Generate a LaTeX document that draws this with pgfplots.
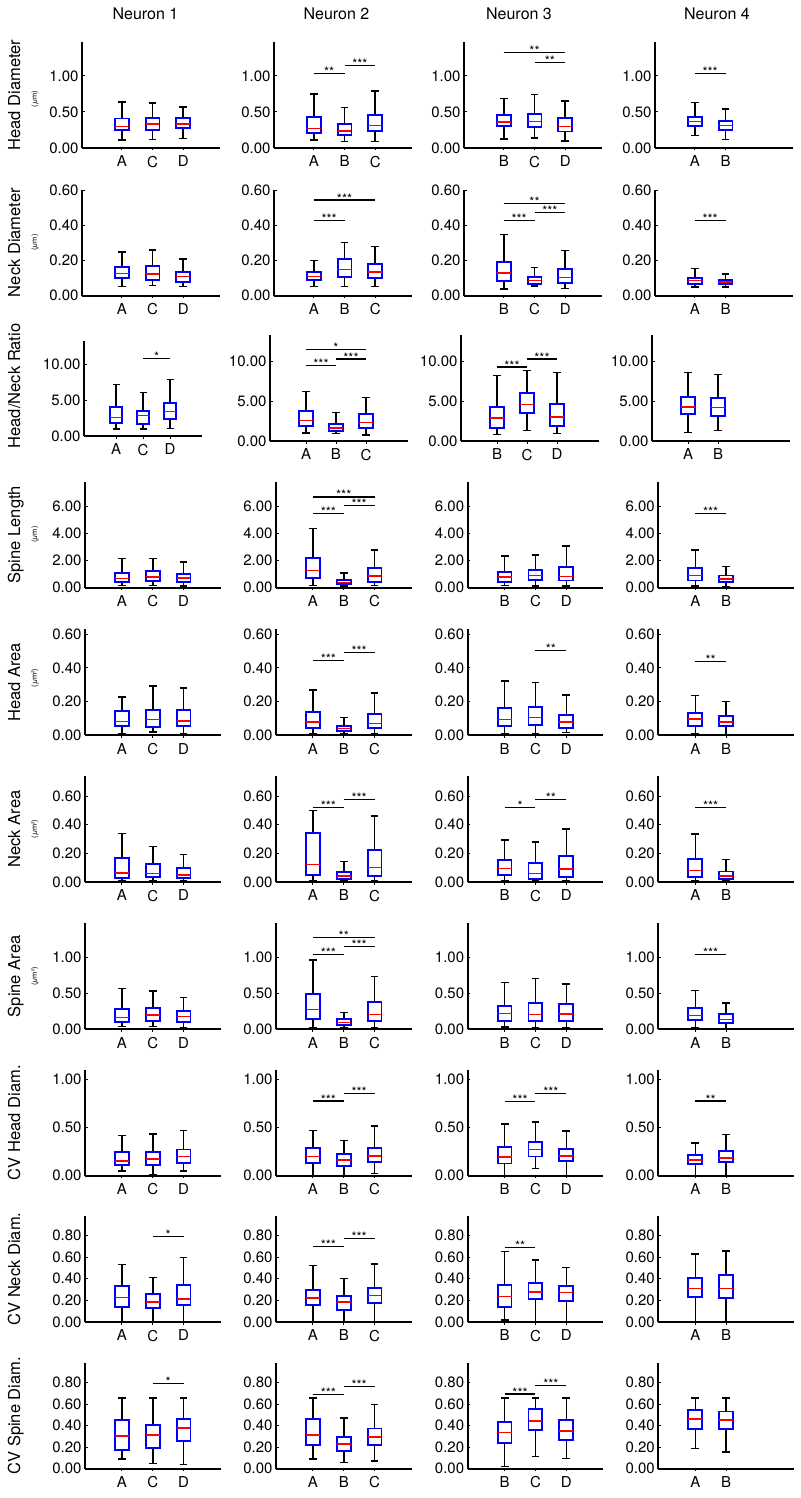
\documentclass[border=0pt]{standalone}
\usepackage{fontspec}
\setmainfont{TeX Gyre Heros}
\usepackage{pgfplots}
\pgfplotsset{compat=1.18}
\usepgfplotslibrary{statistics}

\newcommand{\ticfont}{\fontsize{15}{17}\selectfont}
\newcommand{\starfont}{\fontsize{13}{14}\selectfont}
\newcommand{\labfont}{\fontsize{16.5}{18}\selectfont}
\newcommand{\titfont}{\fontsize{16}{18}\selectfont}
\newcommand{\unitfont}{\fontsize{7.5}{9}\selectfont}

\newcommand{\mybox}[6]{\addplot[blue, boxplot/draw direction=y, boxplot prepared={draw position=#1, lower whisker=#2, lower quartile=#3, median=#4, upper quartile=#5, upper whisker=#6}] coordinates {};}
\newcommand{\mysig}[5]{\addplot[black, line width=1.1pt] coordinates {(#1,#4) (#2,#4)};
  \node[font=\starfont, anchor=base, yshift=-3pt, inner sep=0pt] at (axis cs:#3,#4) {#5};}

\pgfplotsset{
  boxplot/draw direction=y,
  boxplot/box extend=0.45,
  boxplot/whisker extend=0.25,
  boxplot/every box/.style={draw=blue, line width=1.8pt},
  boxplot/every whisker/.style={draw=black, line width=1.5pt},
  boxplot/every median/.style={draw=red, line width=1.6pt},
  panel/.style={
    scale only axis, height=106pt, ymin=0,
    axis x line=bottom, axis y line=left,
    axis line style={-, line width=1.8pt, black},
    clip=false, anchor=south west,
    tick label style={font=\ticfont},
    yticklabel style={/pgf/number format/fixed, /pgf/number format/fixed zerofill, /pgf/number format/precision=2, /pgf/number format/assume math mode=true},
    xticklabel style={yshift=-2pt},
    scaled y ticks=false,
    major tick length=2.5pt,
    tick style={black, line width=1pt},
    ytick align=inside, xtick align=outside,
  },
  ga/.style={panel, width=138pt, xmin=-0.3, xmax=4.2},
  gr/.style={panel, width=138pt, xmin=-0.2, xmax=4.4},
  gb/.style={panel, width=135.5pt, xmin=-0.2, xmax=4.2},
  c1/.style={xtick={1,2,3}, xticklabels={A,C,D}},
  c2/.style={xtick={1,2,3}, xticklabels={A,B,C}},
  c3/.style={xtick={1,2,3}, xticklabels={B,C,D}},
  c4/.style={xtick={1,2}, xticklabels={A,B}},
  r1/.style={ymax=1.472, ytick={0,0.5,1}},
  r2/.style={ymax=0.606, ytick={0,0.2,0.4,0.6}},
  r3/.style={ymax=13.25, ytick={0,5,10}},
  r4/.style={ymax=7.85, ytick={0,2,4,6}},
  r5/.style={ymax=0.63, ytick={0,0.2,0.4,0.6}},
  r6/.style={ymax=0.74, ytick={0,0.2,0.4,0.6}},
  r7/.style={ymax=1.472, ytick={0,0.5,1}},
  r8/.style={ymax=1.104, ytick={0,0.5,1}},
  r9/.style={ymax=0.979, ytick={0,0.2,0.4,0.6,0.8}},
  r10/.style={ymax=0.986, ytick={0,0.2,0.4,0.6,0.8}},
}

\begin{document}
\begin{tikzpicture}
\useasboundingbox (0,0) rectangle (800pt,-1498pt);

% titles
\node[font=\titfont, anchor=base] at (145.5pt,-19.5pt) {Neuron 1};
\node[font=\titfont, anchor=base] at (336.5pt,-19.5pt) {Neuron 2};
\node[font=\titfont, anchor=base] at (519pt,-19.5pt) {Neuron 3};
\node[font=\titfont, anchor=base] at (717pt,-19.5pt) {Neuron 4};

% row labels
\node[font=\labfont, rotate=90, anchor=base] at (20pt,-95pt) {Head Diameter};
\node[font=\unitfont, rotate=90] at (35pt,-99pt) {(\textit{μ}m)};
\node[font=\labfont, rotate=90, anchor=base] at (20pt,-242.7pt) {Neck Diameter};
\node[font=\unitfont, rotate=90] at (35pt,-242.7pt) {(\textit{μ}m)};
\node[font=\labfont, rotate=90, anchor=base] at (20pt,-386pt) {Head/Neck Ratio};
\node[font=\labfont, rotate=90, anchor=base] at (20pt,-534.7pt) {Spine Length};
\node[font=\unitfont, rotate=90] at (35pt,-534.7pt) {(\textit{μ}m)};
\node[font=\labfont, rotate=90, anchor=base] at (20pt,-682.2pt) {Head Area};
\node[font=\unitfont, rotate=90] at (35pt,-678pt) {(\textit{μ}m²)};
\node[font=\labfont, rotate=90, anchor=base] at (20pt,-829pt) {Neck Area};
\node[font=\unitfont, rotate=90] at (35pt,-829pt) {(\textit{μ}m²)};
\node[font=\labfont, rotate=90, anchor=base] at (20pt,-976.3pt) {Spine Area};
\node[font=\unitfont, rotate=90] at (35pt,-976.3pt) {(\textit{μ}m²)};
\node[font=\labfont, rotate=90, anchor=base] at (20pt,-1122.7pt) {CV Head Diam.};
\node[font=\labfont, rotate=90, anchor=base] at (20pt,-1269pt) {CV Neck Diam.};
\node[font=\labfont, rotate=90, anchor=base] at (20pt,-1415.7pt) {CV Spine Diam.};

%================ Row 1: Head Diameter
\begin{axis}[ga, r1, c1, at={(82pt,-148pt)}]
\mybox{1}{0.11}{0.255}{0.30}{0.41}{0.64}
\mybox{2}{0.12}{0.25}{0.33}{0.42}{0.625}
\mybox{3}{0.13}{0.28}{0.33}{0.42}{0.57}
\end{axis}
\begin{axis}[ga, r1, c2, at={(274pt,-148pt)}]
\mybox{1}{0.11}{0.21}{0.27}{0.43}{0.75}
\mybox{2}{0.09}{0.18}{0.24}{0.33}{0.56}
\mybox{3}{0.09}{0.24}{0.31}{0.46}{0.79}
\mysig{1}{2}{1.5}{1.03}{**}
\mysig{2}{3}{2.5}{1.14}{***}
\end{axis}
\begin{axis}[ga, r1, c3, at={(464pt,-148pt)}]
\mybox{1}{0.125}{0.30}{0.36}{0.46}{0.685}
\mybox{2}{0.14}{0.29}{0.37}{0.47}{0.74}
\mybox{3}{0.10}{0.23}{0.30}{0.42}{0.65}
\mysig{1}{3}{2}{1.32}{**}
\mysig{2}{3}{2.5}{1.185}{**}
\end{axis}
\begin{axis}[ga, r1, c4, at={(655pt,-148pt)}]
\mybox{1}{0.175}{0.30}{0.37}{0.435}{0.635}
\mybox{2}{0.115}{0.255}{0.31}{0.375}{0.545}
\mysig{1}{2}{1.5}{1.03}{***}
\end{axis}

%================ Row 2: Neck Diameter
\begin{axis}[ga, r2, c1, at={(82pt,-295.7pt)}]
\mybox{1}{0.053}{0.099}{0.128}{0.166}{0.251}
\mybox{2}{0.059}{0.09}{0.124}{0.168}{0.261}
\mybox{3}{0.053}{0.078}{0.11}{0.135}{0.211}
\end{axis}
\begin{axis}[ga, r2, c2, at={(274pt,-295.7pt)}]
\mybox{1}{0.053}{0.088}{0.11}{0.137}{0.202}
\mybox{2}{0.053}{0.107}{0.149}{0.21}{0.305}
\mybox{3}{0.053}{0.103}{0.135}{0.179}{0.28}
\mysig{1}{2}{1.5}{0.43}{***}
\mysig{1}{3}{2}{0.547}{***}
\end{axis}
\begin{axis}[ga, r2, c3, at={(464pt,-295.7pt)}]
\mybox{1}{0.038}{0.084}{0.131}{0.192}{0.35}
\mybox{2}{0.055}{0.065}{0.086}{0.107}{0.16}
\mybox{3}{0.04}{0.072}{0.105}{0.152}{0.257}
\mysig{1}{2}{1.5}{0.43}{***}
\mysig{2}{3}{2.5}{0.476}{***}
\mysig{1}{3}{2}{0.528}{**}
\end{axis}
\begin{axis}[ga, r2, c4, at={(655pt,-295.7pt)}]
\mybox{1}{0.05}{0.069}{0.086}{0.103}{0.156}
\mybox{2}{0.051}{0.067}{0.078}{0.091}{0.124}
\mysig{1}{2}{1.5}{0.43}{***}
\end{axis}

%================ Row 3: Head/Neck Ratio
\begin{axis}[panel, width=118pt, height=95pt, xmin=-0.19, xmax=4.18, ymax=13.2, ytick={0,5,10}, c1, at={(84pt,-436pt)}]
\mybox{1}{0.97}{1.8}{2.59}{4.07}{7.18}
\mybox{2}{0.97}{1.67}{2.87}{3.52}{6.06}
\mybox{3}{1.06}{2.36}{3.43}{4.63}{7.87}
\mysig{2}{3}{2.5}{10.74}{*}
\end{axis}
\begin{axis}[gr, r3, c2, at={(270pt,-441pt)}]
\mybox{1}{1.0}{1.92}{2.54}{3.71}{6.21}
\mybox{2}{0.92}{1.25}{1.63}{2.13}{3.54}
\mybox{3}{0.75}{1.67}{2.33}{3.33}{5.42}
\mysig{1}{2}{1.5}{9.42}{***}
\mysig{2}{3}{2.5}{10.25}{***}
\mysig{1}{3}{2}{11.42}{*}
\end{axis}
\begin{axis}[gr, r3, c3, at={(461pt,-441pt)}]
\mybox{1}{0.83}{1.58}{2.88}{4.25}{8.17}
\mybox{2}{1.33}{3.46}{4.54}{5.96}{8.79}
\mybox{3}{0.96}{1.83}{3.0}{4.67}{8.54}
\mysig{1}{2}{1.5}{9.25}{***}
\mysig{2}{3}{2.5}{10.25}{***}
\end{axis}
\begin{axis}[gr, r3, c4, at={(652pt,-441pt)}]
\mybox{1}{1.04}{3.33}{4.25}{5.5}{8.58}
\mybox{2}{1.33}{3.08}{4.21}{5.33}{8.29}
\end{axis}

%================ Row 4: Spine Length
\begin{axis}[gb, r4, c1, at={(85pt,-587.7pt)}]
\mybox{1}{0.15}{0.42}{0.67}{1.11}{2.15}
\mybox{2}{0.15}{0.47}{0.81}{1.21}{2.15}
\mybox{3}{0.12}{0.42}{0.72}{1.01}{1.9}
\end{axis}
\begin{axis}[gb, r4, c2, at={(276pt,-587.7pt)}]
\mybox{1}{0.15}{0.69}{1.26}{2.2}{4.4}
\mybox{2}{0.12}{0.25}{0.4}{0.59}{1.09}
\mybox{3}{0.15}{0.42}{0.86}{1.46}{2.81}
\mysig{1}{2}{1.5}{5.5}{***}
\mysig{2}{3}{2.5}{6.07}{***}
\mysig{1}{3}{2}{6.72}{***}
\end{axis}
\begin{axis}[gb, r4, c3, at={(467.7pt,-587.7pt)}]
\mybox{1}{0.15}{0.42}{0.81}{1.19}{2.35}
\mybox{2}{0.12}{0.57}{0.89}{1.31}{2.44}
\mybox{3}{0.12}{0.54}{0.84}{1.56}{3.09}
\end{axis}
\begin{axis}[gb, r4, c4, at={(658.3pt,-587.7pt)}]
\mybox{1}{0.12}{0.54}{0.91}{1.48}{2.81}
\mybox{2}{0.07}{0.42}{0.64}{0.91}{1.56}
\mysig{1}{2}{1.5}{5.48}{***}
\end{axis}

%================ Row 5: Head Area
\begin{axis}[gb, r5, c1, at={(85pt,-735.2pt)}]
\mybox{1}{0.011}{0.055}{0.082}{0.146}{0.227}
\mybox{2}{0.02}{0.05}{0.094}{0.152}{0.292}
\mybox{3}{0.011}{0.055}{0.085}{0.152}{0.28}
\end{axis}
\begin{axis}[gb, r5, c2, at={(276pt,-735.2pt)}]
\mybox{1}{0.007}{0.043}{0.08}{0.136}{0.27}
\mybox{2}{0.007}{0.025}{0.041}{0.057}{0.104}
\mybox{3}{0.007}{0.043}{0.07}{0.126}{0.252}
\mysig{1}{2}{1.5}{0.443}{***}
\mysig{2}{3}{2.5}{0.49}{***}
\end{axis}
\begin{axis}[gb, r5, c3, at={(467.7pt,-735.2pt)}]
\mybox{1}{0.011}{0.057}{0.094}{0.162}{0.322}
\mybox{2}{0.007}{0.063}{0.106}{0.166}{0.312}
\mybox{3}{0.015}{0.043}{0.08}{0.122}{0.239}
\mysig{2}{3}{2.5}{0.506}{**}
\end{axis}
\begin{axis}[gb, r5, c4, at={(658.3pt,-735.2pt)}]
\mybox{1}{0.011}{0.057}{0.096}{0.132}{0.237}
\mybox{2}{0.004}{0.053}{0.077}{0.112}{0.199}
\mysig{1}{2}{1.5}{0.44}{**}
\end{axis}

%================ Row 6: Neck Area
\begin{axis}[gb, r6, c1, at={(85pt,-882pt)}]
\mybox{1}{0.009}{0.028}{0.063}{0.167}{0.34}
\mybox{2}{0.009}{0.035}{0.06}{0.128}{0.247}
\mybox{3}{0.009}{0.028}{0.047}{0.1}{0.191}
\end{axis}
\begin{axis}[gb, r6, c2, at={(276pt,-882pt)}]
\mybox{1}{0.009}{0.051}{0.121}{0.342}{0.498}
\mybox{2}{0.009}{0.021}{0.042}{0.072}{0.142}
\mybox{3}{0.009}{0.044}{0.1}{0.223}{0.46}
\mysig{1}{2}{1.5}{0.519}{***}
\mysig{2}{3}{2.5}{0.577}{***}
\end{axis}
\begin{axis}[gb, r6, c3, at={(467.7pt,-882pt)}]
\mybox{1}{0.009}{0.047}{0.093}{0.156}{0.293}
\mybox{2}{0.009}{0.023}{0.06}{0.135}{0.279}
\mybox{3}{0.009}{0.037}{0.091}{0.184}{0.37}
\mysig{1}{2}{1.5}{0.519}{*}
\mysig{2}{3}{2.5}{0.577}{**}
\end{axis}
\begin{axis}[gb, r6, c4, at={(658.3pt,-882pt)}]
\mybox{1}{0.009}{0.035}{0.079}{0.163}{0.335}
\mybox{2}{0.009}{0.019}{0.04}{0.074}{0.156}
\mysig{1}{2}{1.5}{0.519}{***}
\end{axis}

%================ Row 7: Spine Area
\begin{axis}[gb, r7, c1, at={(85pt,-1029.3pt)}]
\mybox{1}{0.037}{0.097}{0.162}{0.282}{0.569}
\mybox{2}{0.042}{0.111}{0.199}{0.292}{0.532}
\mybox{3}{0.023}{0.102}{0.176}{0.259}{0.444}
\end{axis}
\begin{axis}[gb, r7, c2, at={(276pt,-1029.3pt)}]
\mybox{1}{0.023}{0.148}{0.273}{0.49}{0.963}
\mybox{2}{0.023}{0.056}{0.097}{0.148}{0.236}
\mybox{3}{0.023}{0.111}{0.204}{0.384}{0.73}
\mysig{1}{2}{1.5}{1.04}{***}
\mysig{2}{3}{2.5}{1.153}{***}
\mysig{1}{3}{2}{1.272}{**}
\end{axis}
\begin{axis}[gb, r7, c3, at={(467.7pt,-1029.3pt)}]
\mybox{1}{0.032}{0.111}{0.218}{0.329}{0.653}
\mybox{2}{0.023}{0.116}{0.204}{0.361}{0.708}
\mybox{3}{0.023}{0.111}{0.213}{0.352}{0.63}
\end{axis}
\begin{axis}[gb, r7, c4, at={(658.3pt,-1029.3pt)}]
\mybox{1}{0.023}{0.125}{0.194}{0.296}{0.542}
\mybox{2}{0.014}{0.093}{0.139}{0.208}{0.366}
\mysig{1}{2}{1.5}{1.04}{***}
\end{axis}

%================ Row 8: CV Head Diam.
\begin{axis}[gb, r8, c1, at={(85pt,-1175.7pt)}]
\mybox{1}{0.049}{0.115}{0.153}{0.243}{0.42}
\mybox{2}{0.005}{0.111}{0.177}{0.247}{0.434}
\mybox{3}{0.049}{0.132}{0.201}{0.274}{0.472}
\end{axis}
\begin{axis}[gb, r8, c2, at={(276pt,-1175.7pt)}]
\mybox{1}{0.0}{0.132}{0.201}{0.285}{0.472}
\mybox{2}{0.0}{0.104}{0.163}{0.226}{0.368}
\mybox{3}{0.024}{0.139}{0.205}{0.292}{0.517}
\mysig{1}{2}{1.5}{0.778}{***}
\mysig{2}{3}{2.5}{0.858}{***}
\end{axis}
\begin{axis}[gb, r8, c3, at={(467.7pt,-1175.7pt)}]
\mybox{1}{0.0}{0.128}{0.198}{0.302}{0.538}
\mybox{2}{0.076}{0.201}{0.274}{0.351}{0.559}
\mybox{3}{0.0}{0.153}{0.208}{0.278}{0.465}
\mysig{1}{2}{1.5}{0.774}{***}
\mysig{2}{3}{2.5}{0.858}{***}
\end{axis}
\begin{axis}[gb, r8, c4, at={(658.3pt,-1175.7pt)}]
\mybox{1}{0.0}{0.118}{0.163}{0.215}{0.34}
\mybox{2}{0.0}{0.139}{0.184}{0.257}{0.431}
\mysig{1}{2}{1.5}{0.778}{**}
\end{axis}

%================ Row 9: CV Neck Diam.
\begin{axis}[gb, r9, c1, at={(85pt,-1322pt)}]
\mybox{1}{0.0}{0.135}{0.225}{0.335}{0.532}
\mybox{2}{0.0}{0.126}{0.185}{0.258}{0.409}
\mybox{3}{0.0}{0.157}{0.212}{0.345}{0.597}
\mysig{2}{3}{2.5}{0.788}{*}
\end{axis}
\begin{axis}[gb, r9, c2, at={(276pt,-1322pt)}]
\mybox{1}{0.0}{0.157}{0.222}{0.298}{0.52}
\mybox{2}{0.0}{0.114}{0.185}{0.237}{0.4}
\mybox{3}{0.0}{0.175}{0.246}{0.317}{0.535}
\mysig{1}{2}{1.5}{0.695}{***}
\mysig{2}{3}{2.5}{0.772}{***}
\end{axis}
\begin{axis}[gb, r9, c3, at={(467.7pt,-1322pt)}]
\mybox{1}{0.018}{0.142}{0.237}{0.345}{0.649}
\mybox{2}{0.0}{0.215}{0.277}{0.363}{0.572}
\mybox{3}{0.0}{0.197}{0.271}{0.329}{0.502}
\mysig{1}{2}{1.5}{0.689}{**}
\end{axis}
\begin{axis}[gb, r9, c4, at={(658.3pt,-1322pt)}]
\mybox{1}{0.0}{0.234}{0.308}{0.406}{0.628}
\mybox{2}{0.0}{0.225}{0.308}{0.437}{0.655}
\end{axis}

%================ Row 10: CV Spine Diam.
\begin{axis}[gb, r10, c1, at={(85pt,-1468.7pt)}]
\mybox{1}{0.09}{0.177}{0.307}{0.456}{0.66}
\mybox{2}{0.05}{0.192}{0.316}{0.403}{0.66}
\mybox{3}{0.04}{0.257}{0.381}{0.459}{0.66}
\mysig{2}{3}{2.5}{0.794}{*}
\end{axis}
\begin{axis}[gb, r10, c2, at={(276pt,-1468.7pt)}]
\mybox{1}{0.09}{0.22}{0.313}{0.459}{0.66}
\mybox{2}{0.059}{0.167}{0.229}{0.295}{0.474}
\mybox{3}{0.071}{0.223}{0.295}{0.375}{0.598}
\mysig{1}{2}{1.5}{0.691}{***}
\mysig{2}{3}{2.5}{0.769}{***}
\end{axis}
\begin{axis}[gb, r10, c3, at={(467.7pt,-1468.7pt)}]
\mybox{1}{0.019}{0.242}{0.338}{0.437}{0.66}
\mybox{2}{0.115}{0.36}{0.443}{0.555}{0.66}
\mybox{3}{0.093}{0.264}{0.35}{0.45}{0.66}
\mysig{1}{2}{1.5}{0.695}{***}
\mysig{2}{3}{2.5}{0.772}{***}
\end{axis}
\begin{axis}[gb, r10, c4, at={(658.3pt,-1468.7pt)}]
\mybox{1}{0.189}{0.372}{0.462}{0.549}{0.66}
\mybox{2}{0.155}{0.372}{0.453}{0.533}{0.66}
\end{axis}

\end{tikzpicture}
\end{document}
